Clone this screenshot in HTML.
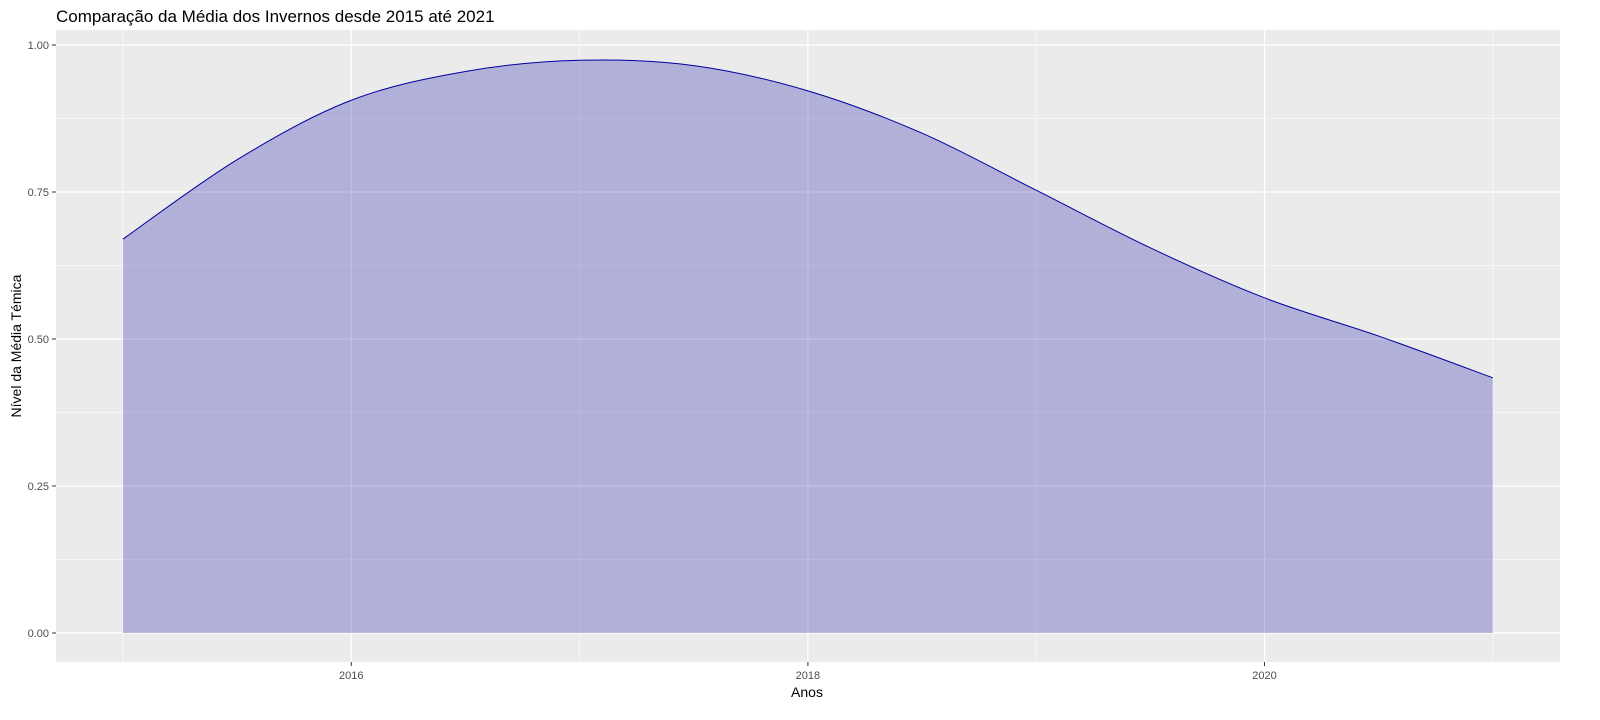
<!DOCTYPE html>
<html><head><meta charset="utf-8"><style>
body{margin:0;background:#fff;}
svg{display:block;font-family:"Liberation Sans",Arial,sans-serif;}
</style></head><body>
<svg id="chart" width="1600" height="720">
<text x="56" y="22" font-size="17" fill="#000">Comparação da Média dos Invernos desde 2015 até 2021</text>
<rect x="56" y="30" width="1504" height="632" fill="#ebebeb"/>
<g id="grid"></g>
<g id="marks"></g>
<g id="axes"></g>
<text x="807" y="697" font-size="14" text-anchor="middle" fill="#000">Anos</text>
<text transform="translate(21,346) rotate(-90)" font-size="14" text-anchor="middle" fill="#000">Nível da Média Témica</text>
</svg>
<script>
const years=[2015,2015.5,2016,2016.5,2017,2017.5,2018,2018.5,2019,2019.5,2020,2020.5,2021];
const values=[0.67,0.805,0.906,0.955,0.974,0.965,0.922,0.850,0.753,0.655,0.570,0.505,0.434];
const xTicks=[2016,2018,2020];
const xMinor=[2015,2017,2019,2021];
const yTicks=[0,0.25,0.5,0.75,1.0];
const yTickLabels=["0.00","0.25","0.50","0.75","1.00"];
const yMinor=[0.125,0.375,0.625,0.875];
const NS="http://www.w3.org/2000/svg";
const X=v=>123+(v-2015)*228.3;
const Y=v=>633-v*588;
function mk(tag,attrs,parent){const e=document.createElementNS(NS,tag);for(const k in attrs)e.setAttribute(k,attrs[k]);parent.appendChild(e);return e;}
const grid=document.getElementById('grid'),marks=document.getElementById('marks'),axes=document.getElementById('axes');
xMinor.forEach(v=>{const l=mk('line',{x1:X(v),x2:X(v),y1:30,y2:662,stroke:'#fff','stroke-width':0.6},grid);

});
yMinor.forEach(v=>{const l=mk('line',{x1:56,x2:1560,y1:Y(v),y2:Y(v),stroke:'#fff','stroke-width':0.6},grid);

});
xTicks.forEach(v=>{const l=mk('line',{x1:X(v),x2:X(v),y1:30,y2:662,stroke:'#fff','stroke-width':1.2},grid);


const t=mk('line',{x1:X(v),x2:X(v),y1:662,y2:666,stroke:'#333'},axes);


const tx=mk('text',{x:X(v),y:679,'font-size':11,'text-anchor':'middle',fill:'#4d4d4d'},axes);tx.textContent=v;

});
yTicks.forEach((v,i)=>{const l=mk('line',{x1:56,x2:1560,y1:Y(v),y2:Y(v),stroke:'#fff','stroke-width':1.2},grid);


const t=mk('line',{x1:52,x2:56,y1:Y(v),y2:Y(v),stroke:'#333'},axes);


const tx=mk('text',{x:49,y:Y(v)+4,'font-size':11,'text-anchor':'end',fill:'#4d4d4d'},axes);tx.textContent=yTickLabels[i];

});
const pts=years.map((y,i)=>[X(y),Y(values[i])]);
let d='M'+pts[0][0]+','+pts[0][1];
for(let i=0;i<pts.length-1;i++){const p0=pts[Math.max(0,i-1)],p1=pts[i],p2=pts[i+1],p3=pts[Math.min(pts.length-1,i+2)];
d+=' C'+(p1[0]+(p2[0]-p0[0])/6)+','+(p1[1]+(p2[1]-p0[1])/6)+' '+(p2[0]-(p3[0]-p1[0])/6)+','+(p2[1]-(p3[1]-p1[1])/6)+' '+p2[0]+','+p2[1];}
const area=mk('path',{d:d+' L'+pts[pts.length-1][0]+','+Y(0)+' L'+pts[0][0]+','+Y(0)+' Z',fill:'rgba(0,0,160,0.25)'},marks);


const line=mk('path',{d:d,fill:'none',stroke:'#0000a0','stroke-width':1},marks);


</script>
</body></html>
